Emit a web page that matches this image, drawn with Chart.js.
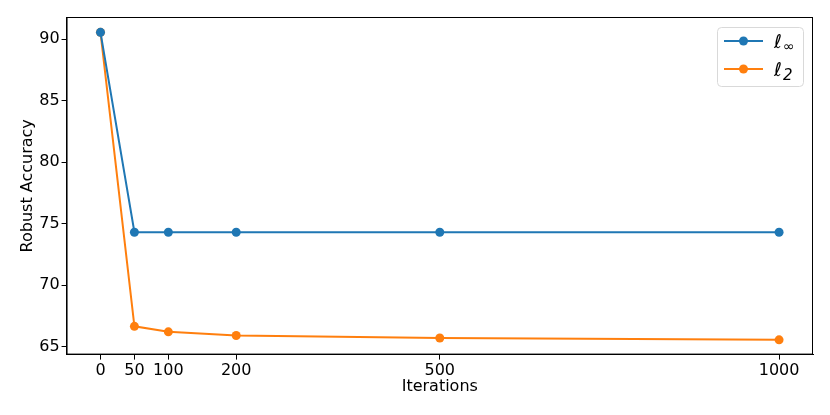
<!DOCTYPE html>
<html>
<head>
<meta charset="utf-8">
<script src="https://cdn.jsdelivr.net/npm/chart.js@4/dist/chart.umd.min.js"></script>
<style>
  html, body { margin: 0; padding: 0; background: #fff; }
  #wrap { width: 830px; height: 415px; }
</style>
</head>
<body>
<div id="wrap"><canvas id="accChart"></canvas></div>
<script>
// iterations and robust accuracy
const iterations = [0, 50, 100, 200, 500, 1000];
const linfAcc = [90.55, 74.3, 74.3, 74.3, 74.3, 74.3];
const l2Acc = [90.55, 66.65, 66.2, 65.9, 65.7, 65.55];
const xTicks = [0, 50, 100, 200, 500, 1000];
const yTicks = [65, 70, 75, 80, 85, 90];

const BLUE = '#1f77b4';
const ORANGE = '#ff7f0e';
const FONT = "'DejaVu Sans', sans-serif";

const toPoints = (ys) => iterations.map((x, i) => ({ x: x, y: ys[i] }));

// top/right spines
const frame = {
    id: 'frame',
    afterDraw(chart) {
        const { ctx, chartArea: a } = chart;
        ctx.save();
        ctx.strokeStyle = '#000';
        ctx.lineWidth = 1;
        ctx.strokeRect(a.left + 0.5, a.top + 0.5, a.right - a.left - 1, a.bottom - a.top - 1);
        ctx.restore();
    }
};

// matplotlib-like legend with subscripted labels
const mplLegend = {
    id: 'mplLegend',
    afterDraw(chart) {
        const { ctx, chartArea: a } = chart;
        const w = 86, h = 59;
        const x0 = a.right - 10 - w, y0 = a.top + 10;
        ctx.save();
        ctx.beginPath();
        ctx.roundRect(x0 + 0.5, y0 + 0.5, w, h, 4);
        ctx.fillStyle = 'rgba(255,255,255,0.8)';
        ctx.fill();
        ctx.strokeStyle = '#d9d9d9';
        ctx.lineWidth = 1;
        ctx.stroke();
        const items = [
            { color: BLUE, sub: '\u221E' },
            { color: ORANGE, sub: '2' }
        ];
        items.forEach((it, i) => {
            const cy = y0 + 14 + i * 28;
            ctx.strokeStyle = it.color;
            ctx.lineWidth = 2;
            ctx.beginPath();
            ctx.moveTo(x0 + 7, cy);
            ctx.lineTo(x0 + 46, cy);
            ctx.stroke();
            ctx.fillStyle = it.color;
            ctx.beginPath();
            ctx.arc(x0 + 26.5, cy, 4.5, 0, Math.PI * 2);
            ctx.fill();
            ctx.fillStyle = '#000';
            ctx.textBaseline = 'alphabetic';
            ctx.font = 'italic 19px ' + FONT;
            ctx.fillText('\u2113', x0 + 57, cy + 7);
            ctx.font = (it.sub === '2' ? 'italic 15px ' : '14px ') + FONT;
            ctx.fillText(it.sub, x0 + 66, cy + (it.sub === '2' ? 11 : 10));
        });
        ctx.restore();
    }
};

new Chart(document.getElementById('accChart'), {
    type: 'line',
    data: {
        datasets: [{
            label: 'linf',
            data: toPoints(linfAcc),
            borderColor: BLUE,
            backgroundColor: BLUE,
            borderWidth: 2,
            pointRadius: 4.5,
            pointHoverRadius: 4.5,
            pointBorderWidth: 0,
            tension: 0
        }, {
            label: 'l2',
            data: toPoints(l2Acc),
            borderColor: ORANGE,
            backgroundColor: ORANGE,
            borderWidth: 2,
            pointRadius: 4.5,
            pointHoverRadius: 4.5,
            pointBorderWidth: 0,
            tension: 0
        }]
    },
    options: {
        responsive: true,
        maintainAspectRatio: false,
        animation: false,
        layout: { padding: { left: 15, right: 17, top: 17, bottom: 19 } },
        plugins: {
            legend: { display: false },
            tooltip: { enabled: false }
        },
        scales: {
            x: {
                type: 'linear',
                min: -50,
                max: 1050,
                afterBuildTicks: (s) => { s.ticks = xTicks.map(v => ({ value: v })); },
                ticks: { color: '#000', font: { family: FONT, size: 16 }, maxRotation: 0, autoSkip: false, padding: 2,
                    callback: (v) => String(v) },
                grid: { drawOnChartArea: false, tickLength: 5, tickColor: '#000' },
                border: { color: '#000', width: 1 },
                title: { display: true, text: 'Iterations', color: '#000', font: { family: FONT, size: 16 }, padding: { top: -6, bottom: 0 } }
            },
            y: {
                min: 64.35,
                max: 91.8,
                afterBuildTicks: (s) => { s.ticks = yTicks.map(v => ({ value: v })); },
                ticks: { color: '#000', font: { family: FONT, size: 16 }, padding: 2 },
                grid: { drawOnChartArea: false, tickLength: 5, tickColor: '#000' },
                border: { color: '#000', width: 1 },
                title: { display: true, text: 'Robust Accuracy', color: '#000', font: { family: FONT, size: 16 }, padding: { top: 3, bottom: 0 } }
            }
        }
    },
    plugins: [frame, mplLegend]
});
</script>
</body>
</html>
